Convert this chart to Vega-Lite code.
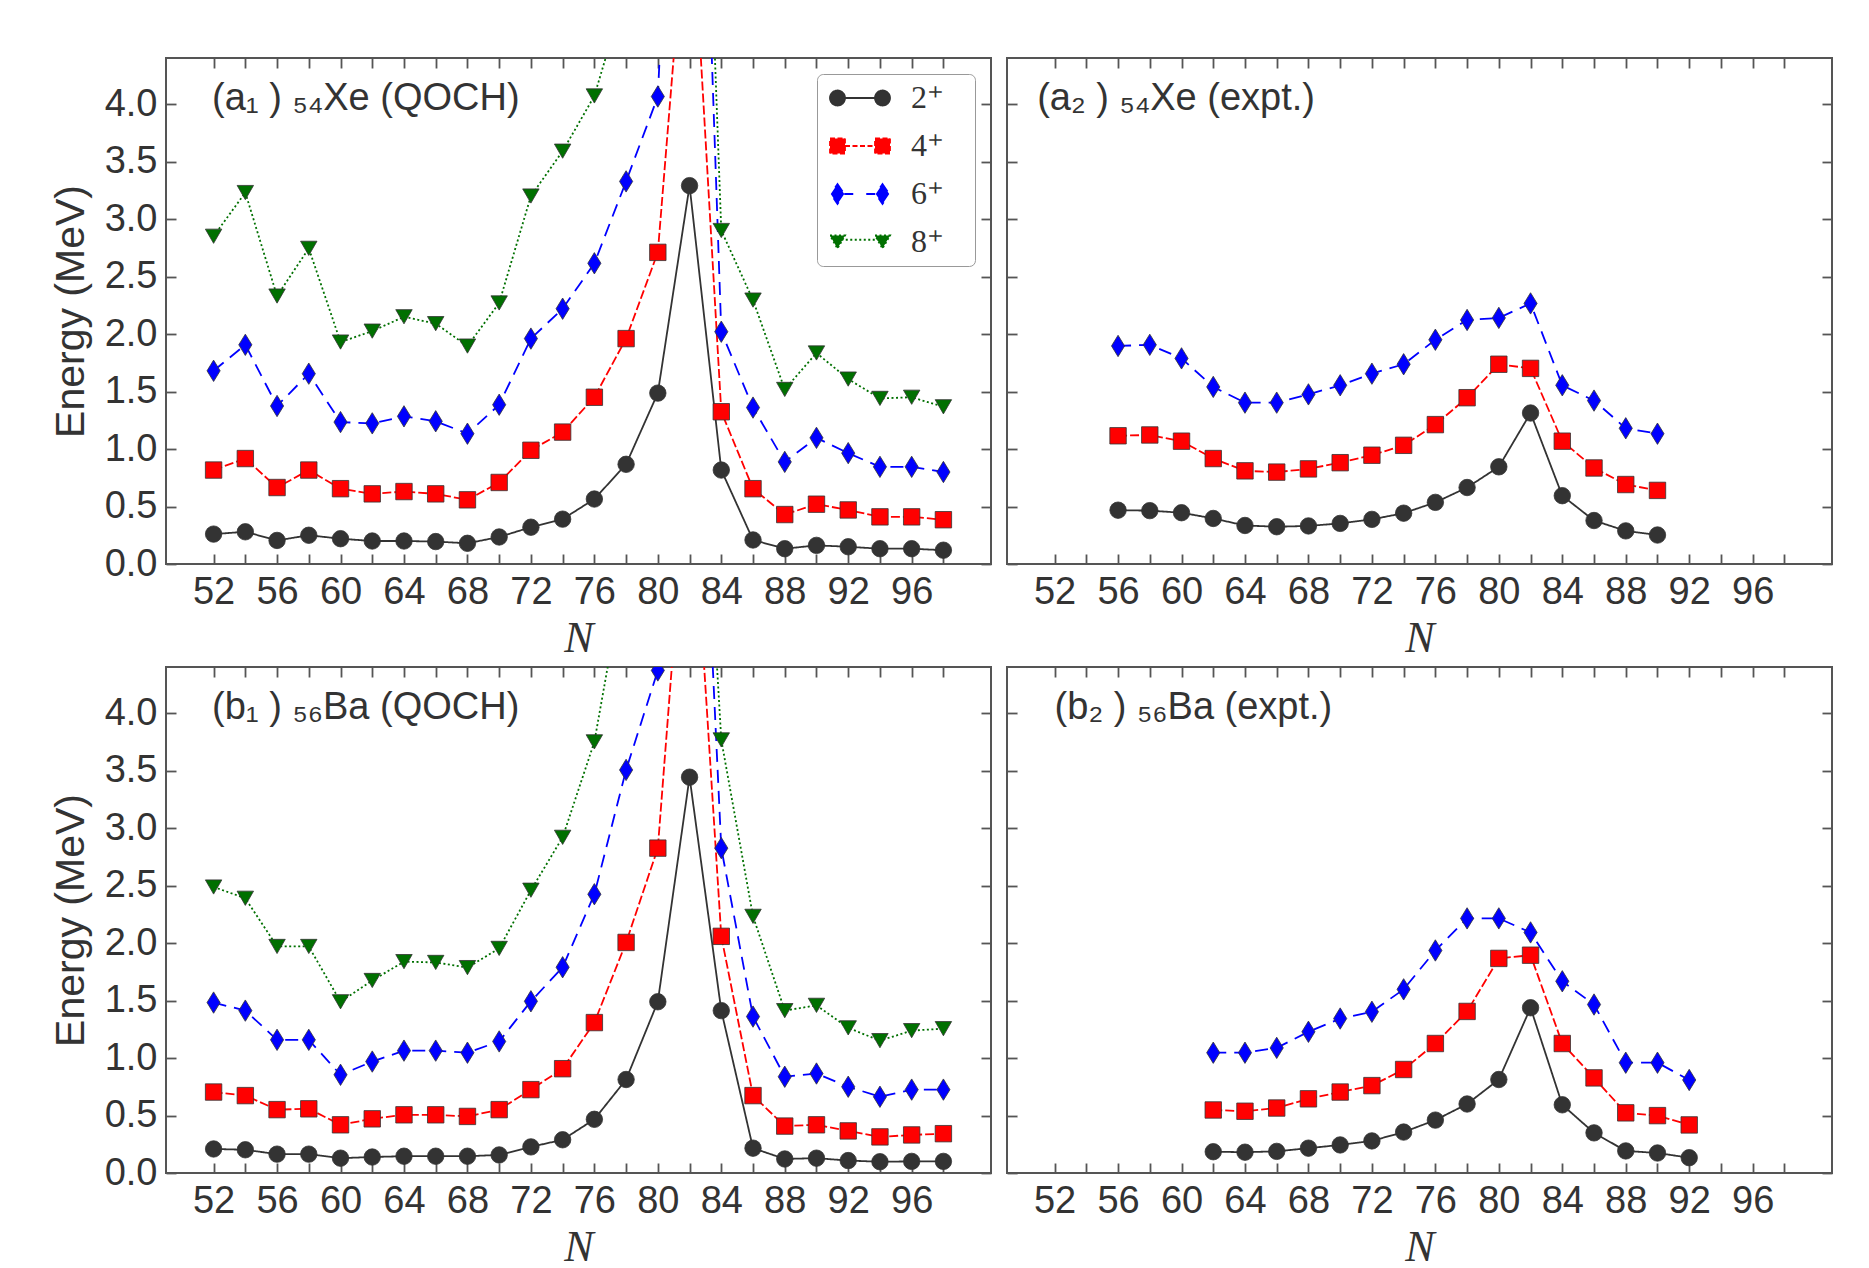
{
  "$schema": "https://vega.github.io/schema/vega-lite/v6.json",
  "background": "white",
  "padding": {"left": 49, "top": 56, "right": 5, "bottom": 5},
  "config": {
    "font": "Liberation Sans",
    "view": {"stroke": "#555555", "strokeWidth": 2},
    "legend": {
      "orient": "top-right", "offset": 16,
      "strokeColor": "#999999", "cornerRadius": 6, "padding": 8, "fillColor": "white",
      "symbolSize": 225, "symbolOffset": 19, "symbolOpacity": 1, "symbolStrokeWidth": 1.8,
      "labelOffset": 35, "rowPadding": 16,
      "labelFont": "Liberation Serif", "labelFontSize": 32, "labelColor": "#333333"
    }
  },
  "datasets": {
    "a1": [
      {"N":52,"s2":0.26,"s4":0.817,"s6":1.68,"s8":2.85},
      {"N":54,"s2":0.28,"s4":0.917,"s6":1.906,"s8":3.23},
      {"N":56,"s2":0.205,"s4":0.665,"s6":1.374,"s8":2.33},
      {"N":58,"s2":0.25,"s4":0.817,"s6":1.655,"s8":2.745},
      {"N":60,"s2":0.22,"s4":0.655,"s6":1.234,"s8":1.93},
      {"N":62,"s2":0.2,"s4":0.61,"s6":1.223,"s8":2.025},
      {"N":64,"s2":0.2,"s4":0.63,"s6":1.284,"s8":2.15},
      {"N":66,"s2":0.195,"s4":0.61,"s6":1.241,"s8":2.09},
      {"N":68,"s2":0.18,"s4":0.558,"s6":1.133,"s8":1.895},
      {"N":70,"s2":0.235,"s4":0.709,"s6":1.385,"s8":2.27},
      {"N":72,"s2":0.32,"s4":0.989,"s6":1.96,"s8":3.2},
      {"N":74,"s2":0.39,"s4":1.147,"s6":2.22,"s8":3.59},
      {"N":76,"s2":0.565,"s4":1.45,"s6":2.615,"s8":4.07},
      {"N":78,"s2":0.867,"s4":1.96,"s6":3.327,"s8":5.0},
      {"N":80,"s2":1.486,"s4":2.71,"s6":4.065,"s8":7.0},
      {"N":82,"s2":3.29,"s4":6.1,"s6":10.0,"s8":10.4},
      {"N":84,"s2":0.817,"s4":1.324,"s6":2.02,"s8":2.9},
      {"N":86,"s2":0.209,"s4":0.655,"s6":1.36,"s8":2.295},
      {"N":88,"s2":0.133,"s4":0.43,"s6":0.888,"s8":1.518},
      {"N":90,"s2":0.162,"s4":0.52,"s6":1.097,"s8":1.835},
      {"N":92,"s2":0.15,"s4":0.47,"s6":0.964,"s8":1.608},
      {"N":94,"s2":0.133,"s4":0.41,"s6":0.845,"s8":1.44},
      {"N":96,"s2":0.133,"s4":0.41,"s6":0.845,"s8":1.45},
      {"N":98,"s2":0.12,"s4":0.385,"s6":0.8,"s8":1.367}
    ],
    "a2": [
      {"N":56,"s2":0.468,"s4":1.115,"s6":1.896},
      {"N":58,"s2":0.464,"s4":1.122,"s6":1.906},
      {"N":60,"s2":0.446,"s4":1.068,"s6":1.788},
      {"N":62,"s2":0.396,"s4":0.917,"s6":1.54},
      {"N":64,"s2":0.335,"s4":0.81,"s6":1.403},
      {"N":66,"s2":0.324,"s4":0.799,"s6":1.403},
      {"N":68,"s2":0.331,"s4":0.827,"s6":1.475},
      {"N":70,"s2":0.353,"s4":0.881,"s6":1.554},
      {"N":72,"s2":0.388,"s4":0.946,"s6":1.655},
      {"N":74,"s2":0.442,"s4":1.032,"s6":1.737},
      {"N":76,"s2":0.536,"s4":1.212,"s6":1.95},
      {"N":78,"s2":0.665,"s4":1.446,"s6":2.122},
      {"N":80,"s2":0.845,"s4":1.737,"s6":2.14},
      {"N":82,"s2":1.313,"s4":1.701,"s6":2.266},
      {"N":84,"s2":0.594,"s4":1.068,"s6":1.554},
      {"N":86,"s2":0.378,"s4":0.835,"s6":1.421},
      {"N":88,"s2":0.288,"s4":0.691,"s6":1.18},
      {"N":90,"s2":0.252,"s4":0.64,"s6":1.133}
    ],
    "b1": [
      {"N":52,"s2":0.209,"s4":0.704,"s6":1.482,"s8":2.487},
      {"N":54,"s2":0.202,"s4":0.673,"s6":1.412,"s8":2.389},
      {"N":56,"s2":0.164,"s4":0.551,"s6":1.158,"s8":1.97},
      {"N":58,"s2":0.164,"s4":0.558,"s6":1.158,"s8":1.97},
      {"N":60,"s2":0.129,"s4":0.419,"s6":0.854,"s8":1.489},
      {"N":62,"s2":0.139,"s4":0.471,"s6":0.969,"s8":1.674},
      {"N":64,"s2":0.146,"s4":0.506,"s6":1.064,"s8":1.838},
      {"N":66,"s2":0.146,"s4":0.506,"s6":1.064,"s8":1.831},
      {"N":68,"s2":0.146,"s4":0.492,"s6":1.046,"s8":1.786},
      {"N":70,"s2":0.157,"s4":0.551,"s6":1.144,"s8":1.953},
      {"N":72,"s2":0.227,"s4":0.725,"s6":1.493,"s8":2.459},
      {"N":74,"s2":0.289,"s4":0.907,"s6":1.789,"s8":2.919},
      {"N":76,"s2":0.467,"s4":1.308,"s6":2.424,"s8":3.749},
      {"N":78,"s2":0.813,"s4":2.005,"s6":3.505,"s8":5.3},
      {"N":80,"s2":1.489,"s4":2.825,"s6":4.37,"s8":7.0},
      {"N":82,"s2":3.442,"s4":6.4,"s6":8.7,"s8":8.5},
      {"N":84,"s2":1.412,"s4":2.058,"s6":2.825,"s8":3.766},
      {"N":86,"s2":0.216,"s4":0.673,"s6":1.36,"s8":2.232},
      {"N":88,"s2":0.122,"s4":0.408,"s6":0.837,"s8":1.412},
      {"N":90,"s2":0.129,"s4":0.419,"s6":0.865,"s8":1.458},
      {"N":92,"s2":0.108,"s4":0.366,"s6":0.75,"s8":1.262},
      {"N":94,"s2":0.098,"s4":0.314,"s6":0.663,"s8":1.151},
      {"N":96,"s2":0.101,"s4":0.331,"s6":0.725,"s8":1.238},
      {"N":98,"s2":0.101,"s4":0.342,"s6":0.725,"s8":1.255}
    ],
    "b2": [
      {"N":62,"s2":0.185,"s4":0.548,"s6":1.046},
      {"N":64,"s2":0.181,"s4":0.537,"s6":1.046},
      {"N":66,"s2":0.188,"s4":0.565,"s6":1.088},
      {"N":68,"s2":0.216,"s4":0.645,"s6":1.228},
      {"N":70,"s2":0.244,"s4":0.704,"s6":1.343},
      {"N":72,"s2":0.279,"s4":0.76,"s6":1.402},
      {"N":74,"s2":0.356,"s4":0.9,"s6":1.597},
      {"N":76,"s2":0.46,"s4":1.126,"s6":1.935},
      {"N":78,"s2":0.6,"s4":1.405,"s6":2.214},
      {"N":80,"s2":0.813,"s4":1.866,"s6":2.214},
      {"N":82,"s2":1.437,"s4":1.894,"s6":2.092},
      {"N":84,"s2":0.593,"s4":1.126,"s6":1.667},
      {"N":86,"s2":0.349,"s4":0.827,"s6":1.465},
      {"N":88,"s2":0.192,"s4":0.523,"s6":0.959},
      {"N":90,"s2":0.174,"s4":0.499,"s6":0.959},
      {"N":92,"s2":0.133,"s4":0.418,"s6":0.809}
    ]
  },
  "spacing": 4,
  "resolve": {
    "scale": {"fill": "independent", "stroke": "independent", "shape": "independent", "strokeDash": "independent"},
    "legend": {"fill": "independent", "stroke": "independent", "shape": "independent", "strokeDash": "independent"}
  },
  "vconcat": [
    {
      "spacing": 12,
      "resolve": {
        "scale": {"fill": "independent", "stroke": "independent", "shape": "independent", "strokeDash": "independent"},
        "legend": {"fill": "independent", "stroke": "independent", "shape": "independent", "strokeDash": "independent"}
      },
      "hconcat": [
        {
          "width": 825, "height": 506,
          "data": {"name": "a1"},
          "transform": [{"fold": ["s2","s4","s6","s8"], "as": ["level","E"]}],
          "resolve": {
            "axis": {"x": "independent", "y": "independent"},
            "scale": {"fill": "independent", "stroke": "independent", "shape": "independent", "strokeDash": "independent"},
            "legend": {"fill": "independent", "stroke": "independent", "shape": "independent", "strokeDash": "independent"}
          },
          "layer": [
            {
              "mark": {"type": "line", "clip": true, "strokeWidth": 1.8},
              "encoding": {
                "x": {"field": "N", "type": "quantitative", "scale": {"domain": [49, 101], "nice": false, "zero": false},
                  "axis": {"orient": "bottom", "values": [52,54,56,58,60,62,64,66,68,70,72,74,76,78,80,82,84,86,88,90,92,94,96,98], "labelExpr": "datum.value % 4 == 0 ? datum.label : ''", "format": "d", "tickSize": -10, "tickWidth": 1.8, "tickColor": "#555555", "domain": false, "grid": false, "labelFont": "Liberation Sans", "labelFontSize": 38, "labelColor": "#333333", "labelPadding": 19, "labelFlush": false, "labelOverlap": false, "title": "N", "titleFont": "Liberation Serif", "titleFontStyle": "italic", "titleFontWeight": "normal", "titleFontSize": 44, "titleColor": "#333333", "titlePadding": 5}},
                "y": {"field": "E", "type": "quantitative", "scale": {"domain": [0, 4.4], "nice": false},
                  "axis": {"orient": "left", "values": [0,0.5,1,1.5,2,2.5,3,3.5,4], "format": ".1f", "tickSize": -10, "tickWidth": 1.8, "tickColor": "#555555", "domain": false, "grid": false, "labelFont": "Liberation Sans", "labelFontSize": 38, "labelColor": "#333333", "labelPadding": 19, "labelOverlap": false, "labelFlush": false, "title": "Energy (MeV)", "titleFont": "Liberation Sans", "titleFontWeight": "normal", "titleFontSize": 41, "titleColor": "#333333", "titlePadding": 12}},
                "stroke": {"field": "level", "type": "nominal", "scale": {"domain": ["s2","s4","s6","s8"], "range": ["#333333","#ff0000","#0000ff","#007000"]}, "legend": null},
                "strokeDash": {"field": "level", "type": "nominal", "scale": {"domain": ["s2","s4","s6","s8"], "range": [[1,0],[9,3],[13,8],[2,2.5]]}, "legend": null}
              }
            },
            {
              "mark": {"type": "point", "filled": true, "clip": true, "size": 270, "opacity": 1, "stroke": "#333333", "strokeWidth": 0.8},
              "encoding": {
                "x": {"field": "N", "type": "quantitative", "scale": {"domain": [49, 101], "nice": false, "zero": false},
                  "axis": {"orient": "top", "values": [52,54,56,58,60,62,64,66,68,70,72,74,76,78,80,82,84,86,88,90,92,94,96,98], "labels": false, "tickSize": -10, "tickWidth": 1.8, "tickColor": "#555555", "domain": false, "grid": false, "title": null}},
                "y": {"field": "E", "type": "quantitative", "scale": {"domain": [0, 4.4], "nice": false},
                  "axis": {"orient": "right", "values": [0,0.5,1,1.5,2,2.5,3,3.5,4], "labels": false, "tickSize": -10, "tickWidth": 1.8, "tickColor": "#555555", "domain": false, "grid": false, "title": null}},
                "fill": {"field": "level", "type": "nominal", "scale": {"domain": ["s2","s4","s6","s8"], "range": ["#333333","#ff0000","#0000ff","#007000"]}, "legend": null},
                "shape": {"field": "level", "type": "nominal", "scale": {"domain": ["s2","s4","s6","s8"], "range": ["circle","square","M0,-1.3L0.8,0L0,1.3L-0.8,0Z","triangle-down"]}, "legend": null}
              }
            },
            {
              "mark": {"type": "point", "filled": true, "clip": true, "size": 1, "opacity": 0},
              "encoding": {
                "x": {"field": "N", "type": "quantitative", "scale": {"domain": [49, 101], "nice": false, "zero": false}, "axis": null},
                "y": {"field": "E", "type": "quantitative", "scale": {"domain": [0, 4.4], "nice": false}, "axis": null},
                "fill": {"field": "level", "type": "nominal", "scale": {"domain": ["s2","s4","s6","s8"], "range": ["#333333","#ff0000","#0000ff","#007000"]},
                  "legend": {"title": null, "labelExpr": "slice(datum.label, 1) + '⁺\u2800'"}},
                "stroke": {"field": "level", "type": "nominal", "scale": {"domain": ["s2","s4","s6","s8"], "range": ["#333333","#ff0000","#0000ff","#007000"]},
                  "legend": {"title": null, "labelExpr": "slice(datum.label, 1) + '⁺\u2800'"}},
                "strokeDash": {"field": "level", "type": "nominal", "scale": {"domain": ["s2","s4","s6","s8"], "range": [[1,0],[5,2.5],[9,13],[2,2.5]]},
                  "legend": {"title": null, "labelExpr": "slice(datum.label, 1) + '⁺\u2800'"}},
                "shape": {"field": "level", "type": "nominal", "scale": {"domain": ["s2","s4","s6","s8"], "range": [
                  "M-4,0A1,1,0,1,1,-2,0A1,1,0,1,1,-4,0ZM-2,0L2,0M2,0A1,1,0,1,1,4,0A1,1,0,1,1,2,0Z",
                  "M-4,-1L-2,-1L-2,1L-4,1ZM-2,0L2,0M2,-1L4,-1L4,1L2,1Z",
                  "M-3,-1.33L-2.1,0L-3,1.33L-3.9,0ZM-2.1,0L2.1,0M3,-1.33L3.9,0L3,1.33L2.1,0Z",
                  "M-4,-0.866L-2,-0.866L-3,0.866ZM-2.5,-0.3L2.5,-0.3M2,-0.866L4,-0.866L3,0.866Z"]},
                  "legend": {"title": null, "labelExpr": "slice(datum.label, 1) + '⁺\u2800'"}}
              }
            },
            {
              "data": {"values": [{}]},
              "mark": {"type": "text", "text": "(a₁ ) ₅₄Xe (QOCH)", "align": "left", "baseline": "alphabetic", "font": "Liberation Sans", "fontSize": 38, "color": "#333333"},
              "encoding": {
                "x": {"datum": 51.9, "type": "quantitative", "axis": null},
                "y": {"datum": 3.95, "type": "quantitative", "axis": null}
              }
            }
          ]
        },
        {
          "width": 825, "height": 506,
          "data": {"name": "a2"},
          "transform": [{"fold": ["s2","s4","s6"], "as": ["level","E"]}],
          "resolve": {"axis": {"x": "independent", "y": "independent"}},
          "layer": [
            {
              "mark": {"type": "line", "clip": true, "strokeWidth": 1.8},
              "encoding": {
                "x": {"field": "N", "type": "quantitative", "scale": {"domain": [49, 101], "nice": false, "zero": false},
                  "axis": {"orient": "bottom", "values": [52,54,56,58,60,62,64,66,68,70,72,74,76,78,80,82,84,86,88,90,92,94,96,98], "labelExpr": "datum.value % 4 == 0 ? datum.label : ''", "format": "d", "tickSize": -10, "tickWidth": 1.8, "tickColor": "#555555", "domain": false, "grid": false, "labelFont": "Liberation Sans", "labelFontSize": 38, "labelColor": "#333333", "labelPadding": 19, "labelFlush": false, "labelOverlap": false, "title": "N", "titleFont": "Liberation Serif", "titleFontStyle": "italic", "titleFontWeight": "normal", "titleFontSize": 44, "titleColor": "#333333", "titlePadding": 5}},
                "y": {"field": "E", "type": "quantitative", "scale": {"domain": [0, 4.4], "nice": false},
                  "axis": {"orient": "left", "values": [0,0.5,1,1.5,2,2.5,3,3.5,4], "labels": false, "tickSize": -10, "tickWidth": 1.8, "tickColor": "#555555", "domain": false, "grid": false, "title": null}},
                "stroke": {"field": "level", "type": "nominal", "scale": {"domain": ["s2","s4","s6","s8"], "range": ["#333333","#ff0000","#0000ff","#007000"]}, "legend": null},
                "strokeDash": {"field": "level", "type": "nominal", "scale": {"domain": ["s2","s4","s6","s8"], "range": [[1,0],[9,3],[13,8],[2,2.5]]}, "legend": null}
              }
            },
            {
              "mark": {"type": "point", "filled": true, "clip": true, "size": 270, "opacity": 1, "stroke": "#333333", "strokeWidth": 0.8},
              "encoding": {
                "x": {"field": "N", "type": "quantitative", "scale": {"domain": [49, 101], "nice": false, "zero": false},
                  "axis": {"orient": "top", "values": [52,54,56,58,60,62,64,66,68,70,72,74,76,78,80,82,84,86,88,90,92,94,96,98], "labels": false, "tickSize": -10, "tickWidth": 1.8, "tickColor": "#555555", "domain": false, "grid": false, "title": null}},
                "y": {"field": "E", "type": "quantitative", "scale": {"domain": [0, 4.4], "nice": false},
                  "axis": {"orient": "right", "values": [0,0.5,1,1.5,2,2.5,3,3.5,4], "labels": false, "tickSize": -10, "tickWidth": 1.8, "tickColor": "#555555", "domain": false, "grid": false, "title": null}},
                "fill": {"field": "level", "type": "nominal", "scale": {"domain": ["s2","s4","s6","s8"], "range": ["#333333","#ff0000","#0000ff","#007000"]}, "legend": null},
                "shape": {"field": "level", "type": "nominal", "scale": {"domain": ["s2","s4","s6","s8"], "range": ["circle","square","M0,-1.3L0.8,0L0,1.3L-0.8,0Z","triangle-down"]}, "legend": null}
              }
            },
            {
              "data": {"values": [{}]},
              "mark": {"type": "text", "text": "(a₂ ) ₅₄Xe (expt.)", "align": "left", "baseline": "alphabetic", "font": "Liberation Sans", "fontSize": 38, "color": "#333333"},
              "encoding": {
                "x": {"datum": 50.9, "type": "quantitative", "axis": null},
                "y": {"datum": 3.95, "type": "quantitative", "axis": null}
              }
            }
          ]
        }
      ]
    },
    {
      "spacing": 12,
      "resolve": {
        "scale": {"fill": "independent", "stroke": "independent", "shape": "independent", "strokeDash": "independent"},
        "legend": {"fill": "independent", "stroke": "independent", "shape": "independent", "strokeDash": "independent"}
      },
      "hconcat": [
        {
          "width": 825, "height": 506,
          "data": {"name": "b1"},
          "transform": [{"fold": ["s2","s4","s6","s8"], "as": ["level","E"]}],
          "resolve": {"axis": {"x": "independent", "y": "independent"}},
          "layer": [
            {
              "mark": {"type": "line", "clip": true, "strokeWidth": 1.8},
              "encoding": {
                "x": {"field": "N", "type": "quantitative", "scale": {"domain": [49, 101], "nice": false, "zero": false},
                  "axis": {"orient": "bottom", "values": [52,54,56,58,60,62,64,66,68,70,72,74,76,78,80,82,84,86,88,90,92,94,96,98], "labelExpr": "datum.value % 4 == 0 ? datum.label : ''", "format": "d", "tickSize": -10, "tickWidth": 1.8, "tickColor": "#555555", "domain": false, "grid": false, "labelFont": "Liberation Sans", "labelFontSize": 38, "labelColor": "#333333", "labelPadding": 19, "labelFlush": false, "labelOverlap": false, "title": "N", "titleFont": "Liberation Serif", "titleFontStyle": "italic", "titleFontWeight": "normal", "titleFontSize": 44, "titleColor": "#333333", "titlePadding": 5}},
                "y": {"field": "E", "type": "quantitative", "scale": {"domain": [0, 4.4], "nice": false},
                  "axis": {"orient": "left", "values": [0,0.5,1,1.5,2,2.5,3,3.5,4], "format": ".1f", "tickSize": -10, "tickWidth": 1.8, "tickColor": "#555555", "domain": false, "grid": false, "labelFont": "Liberation Sans", "labelFontSize": 38, "labelColor": "#333333", "labelPadding": 19, "labelOverlap": false, "labelFlush": false, "title": "Energy (MeV)", "titleFont": "Liberation Sans", "titleFontWeight": "normal", "titleFontSize": 41, "titleColor": "#333333", "titlePadding": 12}},
                "stroke": {"field": "level", "type": "nominal", "scale": {"domain": ["s2","s4","s6","s8"], "range": ["#333333","#ff0000","#0000ff","#007000"]}, "legend": null},
                "strokeDash": {"field": "level", "type": "nominal", "scale": {"domain": ["s2","s4","s6","s8"], "range": [[1,0],[9,3],[13,8],[2,2.5]]}, "legend": null}
              }
            },
            {
              "mark": {"type": "point", "filled": true, "clip": true, "size": 270, "opacity": 1, "stroke": "#333333", "strokeWidth": 0.8},
              "encoding": {
                "x": {"field": "N", "type": "quantitative", "scale": {"domain": [49, 101], "nice": false, "zero": false},
                  "axis": {"orient": "top", "values": [52,54,56,58,60,62,64,66,68,70,72,74,76,78,80,82,84,86,88,90,92,94,96,98], "labels": false, "tickSize": -10, "tickWidth": 1.8, "tickColor": "#555555", "domain": false, "grid": false, "title": null}},
                "y": {"field": "E", "type": "quantitative", "scale": {"domain": [0, 4.4], "nice": false},
                  "axis": {"orient": "right", "values": [0,0.5,1,1.5,2,2.5,3,3.5,4], "labels": false, "tickSize": -10, "tickWidth": 1.8, "tickColor": "#555555", "domain": false, "grid": false, "title": null}},
                "fill": {"field": "level", "type": "nominal", "scale": {"domain": ["s2","s4","s6","s8"], "range": ["#333333","#ff0000","#0000ff","#007000"]}, "legend": null},
                "shape": {"field": "level", "type": "nominal", "scale": {"domain": ["s2","s4","s6","s8"], "range": ["circle","square","M0,-1.3L0.8,0L0,1.3L-0.8,0Z","triangle-down"]}, "legend": null}
              }
            },
            {
              "data": {"values": [{}]},
              "mark": {"type": "text", "text": "(b₁ ) ₅₆Ba (QOCH)", "align": "left", "baseline": "alphabetic", "font": "Liberation Sans", "fontSize": 38, "color": "#333333"},
              "encoding": {
                "x": {"datum": 51.9, "type": "quantitative", "axis": null},
                "y": {"datum": 3.95, "type": "quantitative", "axis": null}
              }
            }
          ]
        },
        {
          "width": 825, "height": 506,
          "data": {"name": "b2"},
          "transform": [{"fold": ["s2","s4","s6"], "as": ["level","E"]}],
          "resolve": {"axis": {"x": "independent", "y": "independent"}},
          "layer": [
            {
              "mark": {"type": "line", "clip": true, "strokeWidth": 1.8},
              "encoding": {
                "x": {"field": "N", "type": "quantitative", "scale": {"domain": [49, 101], "nice": false, "zero": false},
                  "axis": {"orient": "bottom", "values": [52,54,56,58,60,62,64,66,68,70,72,74,76,78,80,82,84,86,88,90,92,94,96,98], "labelExpr": "datum.value % 4 == 0 ? datum.label : ''", "format": "d", "tickSize": -10, "tickWidth": 1.8, "tickColor": "#555555", "domain": false, "grid": false, "labelFont": "Liberation Sans", "labelFontSize": 38, "labelColor": "#333333", "labelPadding": 19, "labelFlush": false, "labelOverlap": false, "title": "N", "titleFont": "Liberation Serif", "titleFontStyle": "italic", "titleFontWeight": "normal", "titleFontSize": 44, "titleColor": "#333333", "titlePadding": 5}},
                "y": {"field": "E", "type": "quantitative", "scale": {"domain": [0, 4.4], "nice": false},
                  "axis": {"orient": "left", "values": [0,0.5,1,1.5,2,2.5,3,3.5,4], "labels": false, "tickSize": -10, "tickWidth": 1.8, "tickColor": "#555555", "domain": false, "grid": false, "title": null}},
                "stroke": {"field": "level", "type": "nominal", "scale": {"domain": ["s2","s4","s6","s8"], "range": ["#333333","#ff0000","#0000ff","#007000"]}, "legend": null},
                "strokeDash": {"field": "level", "type": "nominal", "scale": {"domain": ["s2","s4","s6","s8"], "range": [[1,0],[9,3],[13,8],[2,2.5]]}, "legend": null}
              }
            },
            {
              "mark": {"type": "point", "filled": true, "clip": true, "size": 270, "opacity": 1, "stroke": "#333333", "strokeWidth": 0.8},
              "encoding": {
                "x": {"field": "N", "type": "quantitative", "scale": {"domain": [49, 101], "nice": false, "zero": false},
                  "axis": {"orient": "top", "values": [52,54,56,58,60,62,64,66,68,70,72,74,76,78,80,82,84,86,88,90,92,94,96,98], "labels": false, "tickSize": -10, "tickWidth": 1.8, "tickColor": "#555555", "domain": false, "grid": false, "title": null}},
                "y": {"field": "E", "type": "quantitative", "scale": {"domain": [0, 4.4], "nice": false},
                  "axis": {"orient": "right", "values": [0,0.5,1,1.5,2,2.5,3,3.5,4], "labels": false, "tickSize": -10, "tickWidth": 1.8, "tickColor": "#555555", "domain": false, "grid": false, "title": null}},
                "fill": {"field": "level", "type": "nominal", "scale": {"domain": ["s2","s4","s6","s8"], "range": ["#333333","#ff0000","#0000ff","#007000"]}, "legend": null},
                "shape": {"field": "level", "type": "nominal", "scale": {"domain": ["s2","s4","s6","s8"], "range": ["circle","square","M0,-1.3L0.8,0L0,1.3L-0.8,0Z","triangle-down"]}, "legend": null}
              }
            },
            {
              "data": {"values": [{}]},
              "mark": {"type": "text", "text": "(b₂ ) ₅₆Ba (expt.)", "align": "left", "baseline": "alphabetic", "font": "Liberation Sans", "fontSize": 38, "color": "#333333"},
              "encoding": {
                "x": {"datum": 52.0, "type": "quantitative", "axis": null},
                "y": {"datum": 3.95, "type": "quantitative", "axis": null}
              }
            }
          ]
        }
      ]
    }
  ]
}
